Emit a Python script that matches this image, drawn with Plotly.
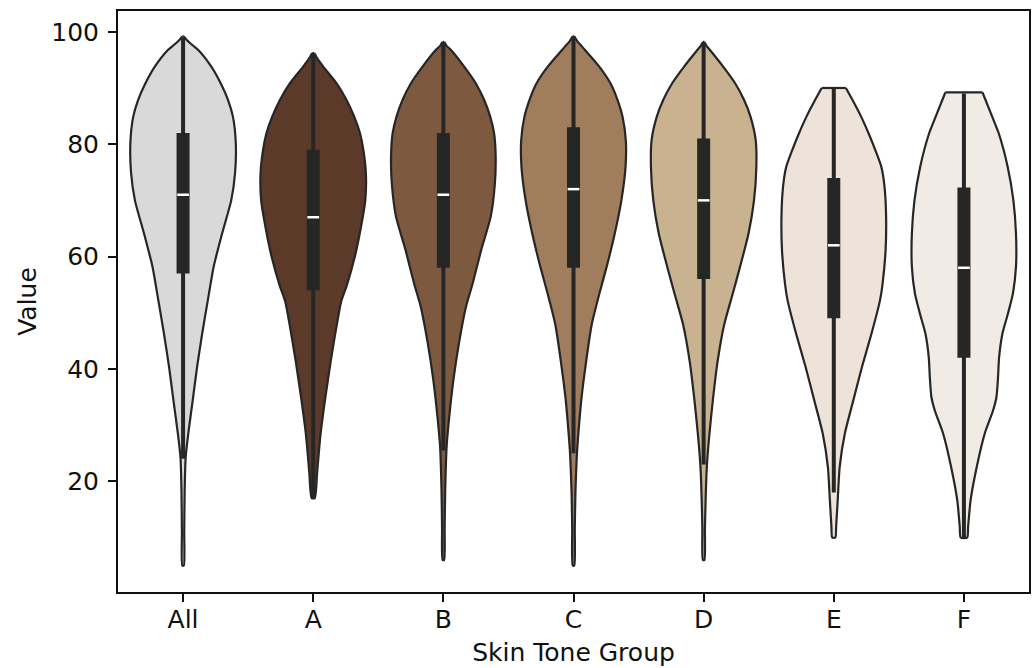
import plotly.graph_objects as go

# Groups along the x axis
categories = ["All", "A", "B", "C", "D", "E", "F"]
fill_colors = ["#d9d9d9", "#5b3a2a", "#7d5940", "#a07d5c", "#c8b28f", "#ede3d9", "#f1ebe5"]

# Density outline of each group: value levels (top -> bottom) and half-widths
levels_all = [99.2, 98.5, 97.6, 96.8, 93.8, 90.8, 87.9, 84.9, 80.2, 75, 70, 64.1, 58.2, 52.2, 46.3, 40.4, 34.4, 28.5, 24.3, 18, 11, 5]
width_all = [0.006, 0.03, 0.074, 0.115, 0.217, 0.29, 0.345, 0.383, 0.405, 0.40, 0.37, 0.30, 0.235, 0.19, 0.147, 0.108, 0.074, 0.04, 0.02, 0.012, 0.009, 0.006]

levels_a = [96.2, 95.3, 93.8, 90.8, 87.9, 84.9, 81.9, 78.9, 74.7, 70, 64.4, 60, 55, 52, 49, 45, 41.3, 34.7, 28.1, 21.5, 17]
width_a = [0.008, 0.03, 0.077, 0.18, 0.255, 0.315, 0.36, 0.386, 0.405, 0.40, 0.36, 0.32, 0.26, 0.215, 0.19, 0.16, 0.134, 0.092, 0.055, 0.03, 0.012]

levels_b = [98.2, 97.5, 96.8, 93.8, 90.8, 87.9, 84.9, 81.9, 77.8, 73, 67.1, 61.1, 55.2, 51.2, 44.6, 38, 31.4, 26.1, 18.2, 11.6, 6]
width_b = [0.006, 0.025, 0.057, 0.16, 0.25, 0.313, 0.36, 0.39, 0.402, 0.396, 0.364, 0.29, 0.225, 0.175, 0.12, 0.077, 0.045, 0.025, 0.014, 0.01, 0.006]

levels_c = [99.2, 98.3, 97.5, 96.8, 93.8, 90.8, 87.9, 84.9, 80.7, 76, 70, 64.1, 58.2, 53.5, 47.9, 41.3, 34.7, 28.1, 24.8, 18.2, 11.6, 5]
width_c = [0.006, 0.03, 0.06, 0.087, 0.198, 0.285, 0.338, 0.377, 0.402, 0.40, 0.368, 0.317, 0.255, 0.2, 0.14, 0.097, 0.061, 0.036, 0.026, 0.015, 0.01, 0.006]

levels_d = [98.2, 97.5, 96.8, 93.8, 90.8, 87.9, 84.9, 80.7, 76, 70, 64.1, 58.2, 53.5, 47.9, 41.3, 34.7, 28.1, 22.8, 18.2, 11.6, 6]
width_d = [0.006, 0.022, 0.047, 0.15, 0.243, 0.31, 0.36, 0.4, 0.405, 0.387, 0.345, 0.28, 0.225, 0.158, 0.107, 0.072, 0.043, 0.025, 0.017, 0.01, 0.006]

levels_e = [90, 87.9, 84.9, 81.9, 78.9, 76, 72.4, 67.1, 61.1, 55.2, 52.2, 46.3, 40.4, 34.4, 28.5, 22.5, 16.6, 11.9, 10]
width_e = [0.093, 0.143, 0.21, 0.268, 0.32, 0.365, 0.39, 0.402, 0.398, 0.375, 0.355, 0.29, 0.217, 0.15, 0.085, 0.045, 0.03, 0.018, 0.012]

levels_f = [89.2, 84.9, 81.9, 76, 70, 64.1, 58.2, 53.5, 50, 46.3, 42, 38.5, 35, 32.6, 28.5, 22.5, 16.6, 11.9, 10]
width_f = [0.143, 0.217, 0.268, 0.336, 0.38, 0.4, 0.4, 0.377, 0.34, 0.296, 0.27, 0.262, 0.25, 0.224, 0.16, 0.098, 0.051, 0.032, 0.025]

# Box summary per group
q1 = [57, 54, 58, 58, 56, 49, 42]
median = [71, 67, 71, 72, 70, 62, 58]
q3 = [82, 79, 82, 83, 81, 74, 72.3]
whisker_low = [24, 17, 25.5, 25, 23, 18, 10]
whisker_high = [99, 96, 98, 99, 98, 90, 89]

profiles = [
    (levels_all, width_all), (levels_a, width_a), (levels_b, width_b),
    (levels_c, width_c), (levels_d, width_d), (levels_e, width_e), (levels_f, width_f),
]

DARK = "#262626"
BOX_HALF = 0.05
MED_HALF = 0.045

fig = go.Figure()

for i, (lv, wd) in enumerate(profiles):
    # Open outline: down the left side, around the bottom, up the right side.
    # The fill closes it with a straight edge across the top.
    xs = [i - w for w in wd] + [i + w for w in reversed(wd)]
    ys = list(lv) + list(reversed(lv))
    fig.add_trace(go.Scatter(
        x=xs, y=ys, mode="lines", fill="toself",
        fillcolor=fill_colors[i],
        line=dict(color=DARK, width=2.2, shape="spline", smoothing=0.6),
        hoverinfo="skip", showlegend=False,
    ))
    # Top edge of the outline
    fig.add_trace(go.Scatter(
        x=[i - wd[0], i + wd[0]], y=[lv[0], lv[0]], mode="lines",
        line=dict(color=DARK, width=2.2),
        hoverinfo="skip", showlegend=False,
    ))

for i in range(len(categories)):
    # Whisker
    fig.add_trace(go.Scatter(
        x=[i, i], y=[whisker_low[i], whisker_high[i]], mode="lines",
        line=dict(color=DARK, width=4), hoverinfo="skip", showlegend=False,
    ))
    # Interquartile box
    fig.add_trace(go.Scatter(
        x=[i - BOX_HALF, i + BOX_HALF, i + BOX_HALF, i - BOX_HALF, i - BOX_HALF],
        y=[q1[i], q1[i], q3[i], q3[i], q1[i]],
        mode="lines", fill="toself", fillcolor=DARK,
        line=dict(color=DARK, width=0), hoverinfo="skip", showlegend=False,
    ))
    # Median tick
    fig.add_trace(go.Scatter(
        x=[i - MED_HALF, i + MED_HALF], y=[median[i], median[i]],
        mode="lines", line=dict(color="white", width=2.5),
        hoverinfo="skip", showlegend=False,
    ))

FONT = "DejaVu Sans"
TEXT = "#111111"
fig.update_layout(
    width=1033, height=668,
    margin=dict(l=118, r=2, t=11, b=76),
    paper_bgcolor="white", plot_bgcolor="white",
    font=dict(family=FONT, size=25, color=TEXT),
    showlegend=False,
)
fig.update_xaxes(
    range=[-0.5, 6.5], tickmode="array",
    tickvals=list(range(len(categories))), ticktext=categories,
    showgrid=False, zeroline=False,
    showline=True, linecolor=TEXT, linewidth=2, mirror=True,
    ticks="outside", ticklen=8, tickwidth=2, tickcolor=TEXT,
    ticklabelstandoff=-4,
    title=dict(text="Skin Tone Group", standoff=10, font=dict(size=25)),
)
fig.update_yaxes(
    range=[0.3, 103.7], tickmode="array", tickvals=[20, 40, 60, 80, 100],
    showgrid=False, zeroline=False,
    showline=True, linecolor=TEXT, linewidth=2, mirror=True,
    ticks="outside", ticklen=8, tickwidth=2, tickcolor=TEXT,
    ticklabelstandoff=4,
    title=dict(text="Value", standoff=8, font=dict(size=25)),
)

fig.write_html("out.html")
